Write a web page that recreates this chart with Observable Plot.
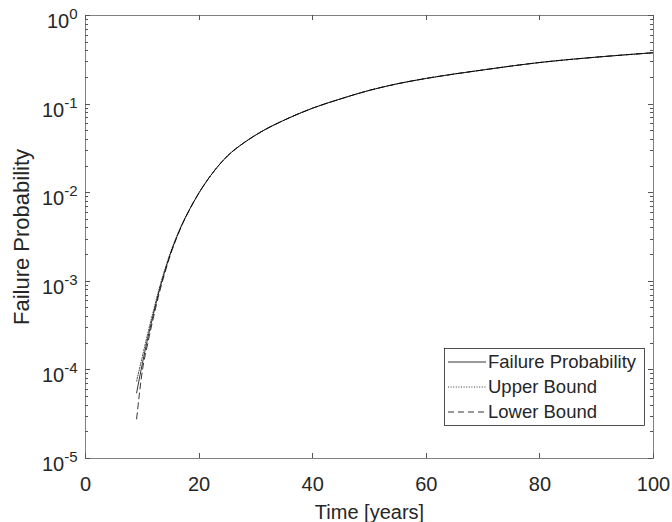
<!DOCTYPE html>
<html><head><meta charset="utf-8">
<script src="https://cdn.jsdelivr.net/npm/d3@7"></script>
<script src="https://cdn.jsdelivr.net/npm/@observablehq/plot@0.6"></script>
<style>body{margin:0;background:#fff;} svg{display:block;}</style>
</head><body><div id="chart"></div>
<script>
// ---- data ----
const time    = [9, 10, 11, 12, 13, 14, 15, 16, 17, 18, 20, 22, 25, 28, 31, 35, 40, 45, 50, 55, 60, 70, 80, 90, 100];
const failure = [5.5e-5, 1.17e-4, 2.34e-4, 4.37e-4, 7.9e-4, 1.32e-3, 2.09e-3, 3.09e-3, 4.37e-3, 5.9e-3, 1.0e-2, 1.55e-2, 2.6e-2, 3.7e-2, 4.9e-2, 6.6e-2, 9.0e-2, 0.115, 0.143, 0.17, 0.195, 0.243, 0.295, 0.339, 0.38];
const upper   = [7.5e-5, 1.4e-4, 2.65e-4, 4.75e-4, 8.4e-4, 1.38e-3, 2.15e-3, 3.15e-3, 4.42e-3, 5.95e-3, 1.0e-2, 1.55e-2, 2.6e-2, 3.7e-2, 4.9e-2, 6.6e-2, 9.0e-2, 0.115, 0.143, 0.17, 0.195, 0.243, 0.295, 0.339, 0.38];
const lower   = [2.8e-5, 0.97e-4, 2.05e-4, 4.0e-4, 7.4e-4, 1.26e-3, 2.03e-3, 3.03e-3, 4.32e-3, 5.85e-3, 1.0e-2, 1.55e-2, 2.6e-2, 3.7e-2, 4.9e-2, 6.6e-2, 9.0e-2, 0.115, 0.143, 0.17, 0.195, 0.243, 0.295, 0.339, 0.38];
const xTicks = [0, 20, 40, 60, 80, 100];
const yTicks = [1e-5, 1e-4, 1e-3, 1e-2, 1e-1, 1];
const seriesNames = ["Failure Probability", "Upper Bound", "Lower Bound"];
const xLabel = "Time [years]";
const yLabel = "Failure Probability";

// ---- layout & styles ----
const W = 672, H = 522, mL = 85, mR = 19, mT = 15, mB = 64;
const innerW = W - mL - mR, innerH = H - mT - mB;
const font = "'Liberation Sans', Arial, Helvetica, sans-serif";
const textColor = "#262626";
const axisColor = "#808080";
const tickColor = "#555555";
const dashes = ["none", "1,1.6", "6,4"];
const major = 5, minor = 3;

const minorTicks = [];
yTicks.slice(0, -1).forEach(d => { for (let k = 2; k <= 9; k++) minorTicks.push(d * k); });

const tickStyle = {stroke: tickColor, strokeWidth: 1, shapeRendering: "crispEdges"};

const chart = Plot.plot({
  width: W, height: H,
  marginLeft: mL, marginRight: mR, marginTop: mT, marginBottom: mB,
  style: {fontFamily: font, color: textColor, background: "#fff"},
  x: {domain: [0, 100]},
  y: {type: "log", domain: [1e-5, 1]},
  marks: [
    // series
    Plot.line(time, {x: time, y: lower, stroke: "#000", strokeWidth: 0.8, strokeDasharray: dashes[2], curve: "monotone-x"}),
    Plot.line(time, {x: time, y: upper, stroke: "#000", strokeWidth: 0.8, strokeDasharray: dashes[1], curve: "monotone-x"}),
    Plot.line(time, {x: time, y: failure, stroke: "#000", strokeWidth: 0.8, curve: "monotone-x"}),
    Plot.frame({stroke: axisColor}),
    // inward ticks on all four sides
    Plot.tickX(xTicks, {x: d => d, ...tickStyle, insetTop: innerH - major}),
    Plot.tickX(xTicks, {x: d => d, ...tickStyle, insetBottom: innerH - major}),
    Plot.tickY(yTicks, {y: d => d, ...tickStyle, insetRight: innerW - major}),
    Plot.tickY(yTicks, {y: d => d, ...tickStyle, insetLeft: innerW - major}),
    Plot.tickY(minorTicks, {y: d => d, ...tickStyle, insetRight: innerW - minor}),
    Plot.tickY(minorTicks, {y: d => d, ...tickStyle, insetLeft: innerW - minor}),
    // tick labels + axis labels
    Plot.axisX(xTicks, {anchor: "bottom", tickSize: 0, tickPadding: 18, fontSize: 20, fill: textColor,
      tickFormat: d => String(d), label: xLabel, labelAnchor: "center", labelArrow: "none", labelOffset: 60}),
    Plot.axisY(yTicks, {anchor: "left", tickSize: 0, tickPadding: 8, fontSize: 20, fill: textColor, dy: 6,
      tickFormat: d => "10^" + Math.round(Math.log10(d)), label: null}),
    Plot.axisY([], {anchor: "left", tickSize: 0, label: yLabel, labelAnchor: "center", labelArrow: "none",
      labelOffset: 72, fontSize: 22, fill: textColor})
  ]
});

// superscript exponents on the y tick labels
const ns = "http://www.w3.org/2000/svg";
chart.querySelectorAll('[aria-label="y-axis tick label"] text').forEach(t => {
  const s = t.textContent;
  const parts = s.split("^");
  if (parts.length !== 2) return;
  t.textContent = "";
  const a = document.createElementNS(ns, "tspan"); a.textContent = parts[0];
  const b = document.createElementNS(ns, "tspan"); b.textContent = parts[1];
  b.setAttribute("dy", "-9"); b.setAttribute("font-size", "15");
  t.append(a, b);
});

// legend (MATLAB style, lower right inside axes)
const svg = d3.select(chart);
const lg = svg.append("g").attr("font-family", font).attr("font-size", 18.5)
  .attr("fill", textColor).attr("text-anchor", "start");
lg.append("rect").attr("x", 444.5).attr("y", 348.5).attr("width", 200).attr("height", 77)
  .attr("fill", "#fff").attr("stroke", "#262626").attr("stroke-width", 0.8);
seriesNames.forEach((name, i) => {
  const y = 362 + i * 25;
  lg.append("line").attr("x1", 448).attr("x2", 486).attr("y1", y).attr("y2", y)
    .attr("stroke", "#000").attr("stroke-width", 0.8).attr("stroke-dasharray", dashes[i]);
  lg.append("text").attr("x", 488).attr("y", y).attr("dy", "0.35em").text(name);
});

document.getElementById("chart").append(chart);
</script>
</body></html>
